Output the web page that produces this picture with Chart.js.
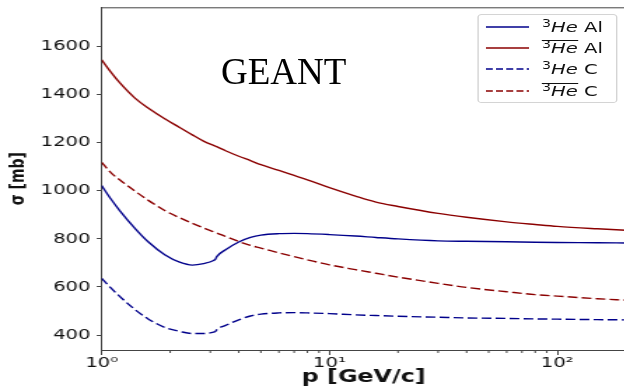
<!DOCTYPE html>
<html>
<head>
<meta charset="utf-8">
<script src="https://cdn.jsdelivr.net/npm/chart.js"></script>
<style>
  html, body { margin: 0; padding: 0; background: #fff; width: 624px; height: 388px; overflow: hidden; }
  #wrap { position: absolute; left: 0; top: 0; width: 447px; height: 388px; transform: scaleX(1.4); transform-origin: 0 0; }
  #c { position: absolute; left: 0; top: 0; }
  #legend { position: absolute; left: 340.7px; top: 14px; width: 98px; height: 87px; border: 1px solid #d4d4d4; border-radius: 3px; background: rgba(255,255,255,0.85); font-family: 'DejaVu Sans'; font-size: 14px; color: #111; }
  .row { position: absolute; left: 0; height: 20px; width: 100%; }
  .row svg { position: absolute; left: 5px; top: 8px; }
  .row .lab { position: absolute; left: 45.5px; top: 0; line-height: 20px; white-space: nowrap; }
  .sup { font-size: 0.72em; vertical-align: 0.45em; line-height: 0; }
  .ov { border-top: 1px solid #111; display: inline-block; line-height: 15px; }
  #geant { position: absolute; left: 221px; top: 53px; font-family: 'Liberation Serif'; font-size: 37px; line-height: 37px; color: #000; white-space: nowrap; }
</style>
</head>
<body>
<div id="wrap">
  <canvas id="c" width="447" height="388"></canvas>
  <div id="legend"></div>
</div>
<div id="geant">GEANT</div>
<script>
// ---- data ----
const momentum = [1, 1.1, 1.2, 1.4, 1.6, 1.9, 2.2, 2.5, 2.8, 3.1, 3.16, 3.2, 3.5, 4, 4.5, 5, 6, 7, 8, 10, 13, 16, 20, 30, 40, 60, 80, 100, 150, 200];
const sigmaHeAl = [1022, 965, 918, 844, 788, 733, 703, 691, 697, 710, 716, 726, 755, 787, 806, 816, 822, 823, 822, 818, 812, 806, 800, 792, 790, 788, 786, 785, 784, 783];
const sigmaAntiHeAl = [1545, 1493, 1450, 1386, 1345, 1299, 1264, 1233, 1207, 1189, 1186, 1184, 1167, 1144, 1126, 1109, 1085, 1064, 1046, 1013, 978, 953, 935, 906, 890, 871, 860, 852, 842, 836];
const sigmaHeC = [636, 595, 561, 506, 467, 431, 415, 406, 406, 412, 415, 422, 440, 463, 479, 487, 492, 493, 492, 489, 484, 481, 478, 474, 471, 469, 467, 466, 464, 463];
const sigmaAntiHeC = [1119, 1075, 1046, 999, 961, 917, 888, 865, 846, 830, 827, 825, 810, 789, 773, 762, 742, 726, 713, 692, 672, 657, 641, 615, 598, 580, 568, 562, 551, 545];

const seriesLabels = ['³He Al', 'anti-³He Al', '³He C', 'anti-³He C'];
const seriesAnti = [false, true, false, true];
const seriesTargets = ['Al', 'Al', 'C', 'C'];

const xMajorTicks = [1, 10, 100];
const xMajorLabels = ['10⁰', '10¹', '10²'];
const xMinorTicks = [2, 3, 4, 5, 6, 7, 8, 9, 20, 30, 40, 50, 60, 70, 80, 90, 200];
const yTicks = [400, 600, 800, 1000, 1200, 1400, 1600];
const yTickLabels = ['400', '600', '800', '1000', '1200', '1400', '1600'];

const xTitle = 'p [GeV/c]';
const yTitle = 'σ [mb]';

// ---- styles ----
const BLUE = '#00008b';
const RED = '#8b0000';
const colors = [BLUE, RED, BLUE, RED];
const dashes = [[], [], [7, 3], [7, 3]];
const sigmas = [sigmaHeAl, sigmaAntiHeAl, sigmaHeC, sigmaAntiHeC];

const datasets = sigmas.map((arr, i) => ({
  label: seriesLabels[i],
  data: momentum.map((p, j) => ({ x: p, y: arr[j] })),
  borderColor: colors[i],
  borderWidth: 1.4,
  borderDash: dashes[i],
  pointRadius: 0,
  fill: false,
  cubicInterpolationMode: 'monotone'
}));

const frame = {
  id: 'frame',
  afterDraw(chart) {
    const { ctx, chartArea: a, scales: { x } } = chart;
    ctx.save();
    ctx.strokeStyle = '#444';
    ctx.lineWidth = 1;
    ctx.beginPath();
    ctx.moveTo(a.left, a.top + 0.5);
    ctx.lineTo(a.right, a.top + 0.5);
    ctx.stroke();
    ctx.beginPath();
    for (const v of xMinorTicks) {
      const px = x.getPixelForValue(v);
      if (px < a.left || px > a.right) continue;
      ctx.moveTo(px, a.bottom);
      ctx.lineTo(px, a.bottom + 3);
    }
    ctx.stroke();
    ctx.restore();
  }
};

Chart.defaults.font.family = 'DejaVu Sans';
Chart.defaults.color = '#111';

new Chart(document.getElementById('c'), {
  type: 'line',
  data: { datasets },
  plugins: [frame],
  options: {
    responsive: false,
    animation: false,
    layout: { padding: { top: 7.3, left: 0, right: 0, bottom: 0 } },
    plugins: { legend: { display: false }, tooltip: { enabled: false } },
    scales: {
      x: {
        type: 'logarithmic',
        min: 1, max: 200,
        afterBuildTicks: s => { s.ticks = xMajorTicks.map(v => ({ value: v })); },
        afterFit: s => { s.height = 38; s.paddingLeft = 0; s.paddingRight = 0; },
        ticks: {
          autoSkip: false, maxRotation: 0, padding: 0,
          font: { size: 14 }, color: '#111',
          callback: v => { const k = xMajorTicks.indexOf(v); return k >= 0 ? xMajorLabels[k] : ''; }
        },
        grid: { drawOnChartArea: false, tickLength: 5, tickColor: '#444', tickWidth: 1 },
        border: { color: '#444', width: 1 },
        title: { display: true, text: xTitle, font: { size: 17, weight: 'bold' }, color: '#111', padding: 0 }
      },
      y: {
        type: 'linear',
        min: 337.6, max: 1764,
        afterBuildTicks: s => { s.ticks = yTicks.map(v => ({ value: v })); },
        afterFit: s => { s.width = 72.6; s.paddingTop = 0; s.paddingBottom = 0; },
        ticks: {
          padding: 4.5, font: { size: 14 }, color: '#111',
          callback: v => { const k = yTicks.indexOf(v); return k >= 0 ? yTickLabels[k] : ''; }
        },
        grid: { drawOnChartArea: false, tickLength: 3.5, tickColor: '#444', tickWidth: 1 },
        border: { color: '#444', width: 1 },
        title: { display: true, text: yTitle, font: { size: 14, weight: 'bold' }, color: '#111', padding: { top: 5.3, bottom: 0 } }
      }
    }
  }
});

// ---- legend (HTML, so the overline can be real text decoration) ----
const legend = document.getElementById('legend');
const rowCenters = [11.5, 32.9, 54.3, 75.7];
seriesTargets.forEach((target, i) => {
  const row = document.createElement('div');
  row.className = 'row';
  row.style.top = (rowCenters[i] - 10) + 'px';
  const dash = dashes[i].length ? 'stroke-dasharray="5,2.3"' : '';
  const iso = '<span class="sup">3</span><i>He</i>';
  const head = seriesAnti[i] ? '<span class="ov">' + iso + '</span>' : iso;
  row.innerHTML = '<svg width="31" height="4"><line x1="0" y1="2" x2="31" y2="2" stroke="' + colors[i] + '" stroke-width="1.5" ' + dash + '/></svg>' +
    '<span class="lab">' + head + ' ' + target + '</span>';
  legend.appendChild(row);
});
</script>
</body>
</html>
